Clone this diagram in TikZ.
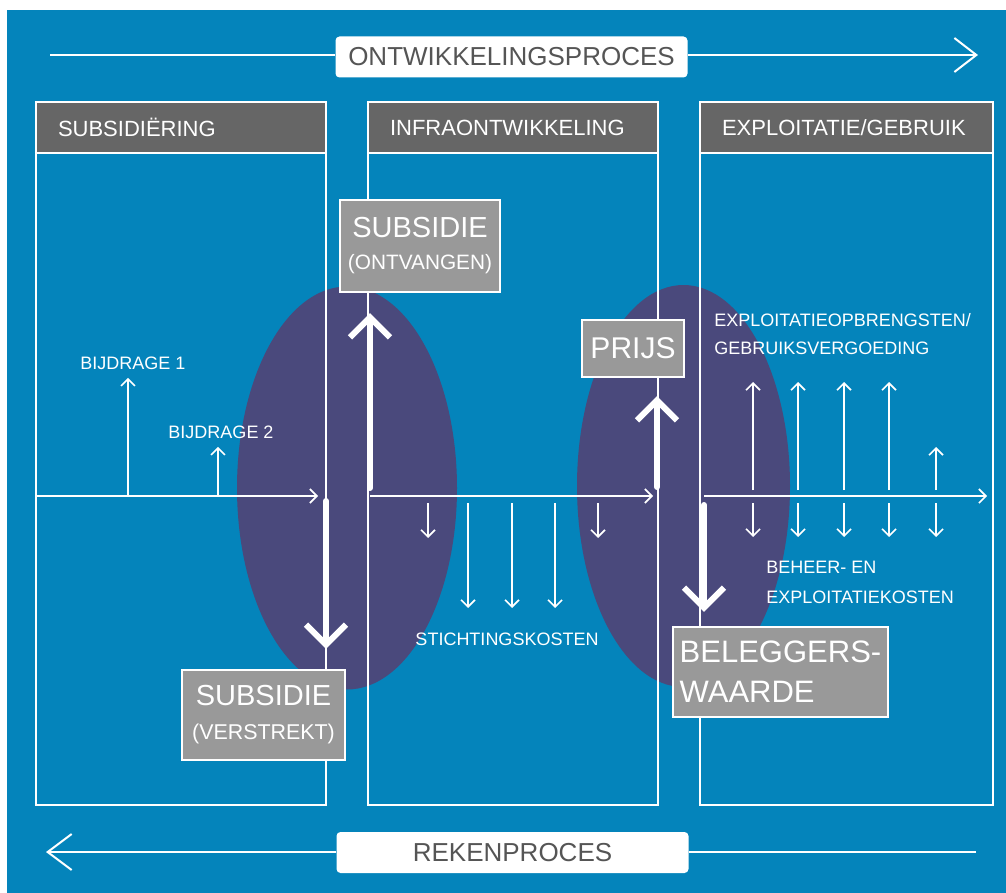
\documentclass[tikz,border=0pt]{standalone}
\usepackage{fontspec}
\setmainfont{Liberation Sans}
\usetikzlibrary{arrows.meta}
\definecolor{bgblue}{RGB}{4,132,187}
\definecolor{ovalpurple}{RGB}{74,73,124}
\definecolor{headgray}{RGB}{102,102,102}
\definecolor{boxgray}{RGB}{153,153,153}
\definecolor{textgray}{RGB}{85,85,85}
\begin{document}
\begin{tikzpicture}[x=0.5pt, y=-0.5pt,
  chalk/.style={white, line width=1.2pt},
  flow/.style={white, line width=0.8pt, -{Straight Barb[length=3.5pt, width=7pt]}},
  bigflow/.style={white, line width=3pt, line cap=round, -{Straight Barb[length=10pt, width=20pt]}},
  head/.style={draw=white, line width=1.2pt, outer sep=0pt, fill=headgray, text=white, anchor=north west, minimum height=25.5pt, inner xsep=11pt, align=left, font=\fontsize{11}{13}\selectfont},
  valbox/.style={draw=white, line width=1.2pt, fill=boxgray, text=white, align=center},
  procbox/.style={fill=white, rounded corners=2pt, text=textgray, minimum width=176pt, minimum height=20.5pt, font=\fontsize{13}{15}\selectfont},
  lbl/.style={text=white, font=\fontsize{9}{14}\selectfont, align=left, inner sep=0pt}]
  \useasboundingbox (0,0) rectangle (1006,893);
  \fill[white] (0,0) rectangle (1006,893);
  \fill[bgblue] (7,10) rectangle (1006,893);
  \fill[ovalpurple] (347,488) ellipse [x radius=55pt, y radius=100.75pt];
  \fill[ovalpurple] (683.5,486) ellipse [x radius=53.25pt, y radius=100.5pt];
  \draw[chalk] (36,102) rectangle (326,805);
  \draw[chalk] (368,102) rectangle (658,805);
  \draw[chalk] (700,102) rectangle (993,805);
  \node[head, text width=123pt] (subhead) at (36,102) {SUBSIDIËRING};
  \node[head, text width=123pt] (infrahead) at (368,102) {INFRAONTWIKKELING};
  \node[head, text width=124.5pt] (exphead) at (700,102) {EXPLOITATIE/GEBRUIK};
  \node[procbox] (devbox) at (511.5,57) {ONTWIKKELINGSPROCES};
  \coordinate (devstart) at (50,55);
  \coordinate (devend) at (978,55);
  \draw[chalk] (devstart) -- (devstart -| devbox.west);
  \draw[chalk, line width=1pt, -{Straight Barb[length=11pt, width=17pt]}] (devstart -| devbox.east) -- (devend);
  \node[procbox] (calcbox) at (512.5,852.5) {REKENPROCES};
  \coordinate (calcstart) at (976,852);
  \coordinate (calcend) at (46,852);
  \draw[chalk] (calcstart) -- (calcstart -| calcbox.east);
  \draw[chalk, line width=1pt, -{Straight Barb[length=12pt, width=18pt]}] (calcstart -| calcbox.west) -- (calcend);
  \coordinate (ax1s) at (36,496);
  \coordinate (ax1e) at (318,496);
  \coordinate (ax2s) at (370,496);
  \coordinate (ax2e) at (653,496);
  \coordinate (ax3s) at (704,496);
  \coordinate (ax3e) at (987,496);
  \draw[flow] (ax1s) -- (ax1e);
  \draw[flow] (ax2s) -- (ax2e);
  \draw[flow] (ax3s) -- (ax3e);
  \node[lbl] (bij1) at (133,363) {BIJDRAGE 1};
  \node[lbl] (bij2) at (221,432) {BIJDRAGE 2};
  \coordinate (bij1foot) at (128,496);
  \coordinate (bij2foot) at (218,496);
  \draw[flow, shorten >=4pt] (bij1foot) -- (bij1foot |- bij1.south);
  \draw[flow, shorten >=4pt] (bij2foot) -- (bij2foot |- bij2.south);
  \foreach \x/\len in {428/35, 468/105, 512/105, 555/105, 598/35}
    \draw[flow] (\x,503) -- ++(0,\len);
  \node[lbl] (sticht) at (507,639) {STICHTINGSKOSTEN};
  \foreach \x/\top in {753/382, 798/382, 844/382, 889/382, 936/447} {
    \draw[flow] (\x,490) -- (\x,\top);
    \draw[flow] (\x,503) -- (\x,537);
  }
  \node[lbl, anchor=west] (opbr) at (714,334) {EXPLOITATIEOPBRENGSTEN/\\GEBRUIKSVERGOEDING};
  \node[lbl, anchor=west, font=\fontsize{9}{15}\selectfont] (beheer) at (766,582) {BEHEER- EN\\EXPLOITATIEKOSTEN};
  \node[valbox, minimum width=80pt, minimum height=46pt, font=\fontsize{14.5}{16}\selectfont] (ontv) at (420,246)
    {SUBSIDIE\\{\fontsize{10.4}{16}\selectfont (ONTVANGEN)}};
  \node[valbox, minimum width=81.5pt, minimum height=45pt, font=\fontsize{14.5}{17}\selectfont] (verstr) at (263.5,715)
    {SUBSIDIE\\{\fontsize{10.7}{17}\selectfont (VERSTREKT)}};
  \node[valbox, minimum width=51pt, minimum height=28.5pt, font=\fontsize{15}{18}\selectfont] (prijs) at (633,348.5) {PRIJS};
  \node[valbox, align=left, minimum width=107.5pt, minimum height=45pt, font=\fontsize{15.5}{20}\selectfont] (waarde) at (780.5,672)
    {BELEGGERS-\\WAARDE};
  \coordinate (ontvfoot) at (370,488);
  \coordinate (verfoot) at (326,501);
  \coordinate (prijsfoot) at (657,487);
  \coordinate (waardefoot) at (704,505);
  \draw[bigflow, shorten >=10pt] (ontvfoot) -- (ontvfoot |- ontv.south);
  \draw[bigflow, shorten >=10pt] (verfoot) -- (verfoot |- verstr.north);
  \draw[bigflow, shorten >=9pt] (prijsfoot) -- (prijsfoot |- prijs.south);
  \draw[bigflow, shorten >=7pt] (waardefoot) -- (waardefoot |- waarde.north);
\end{tikzpicture}
\end{document}
